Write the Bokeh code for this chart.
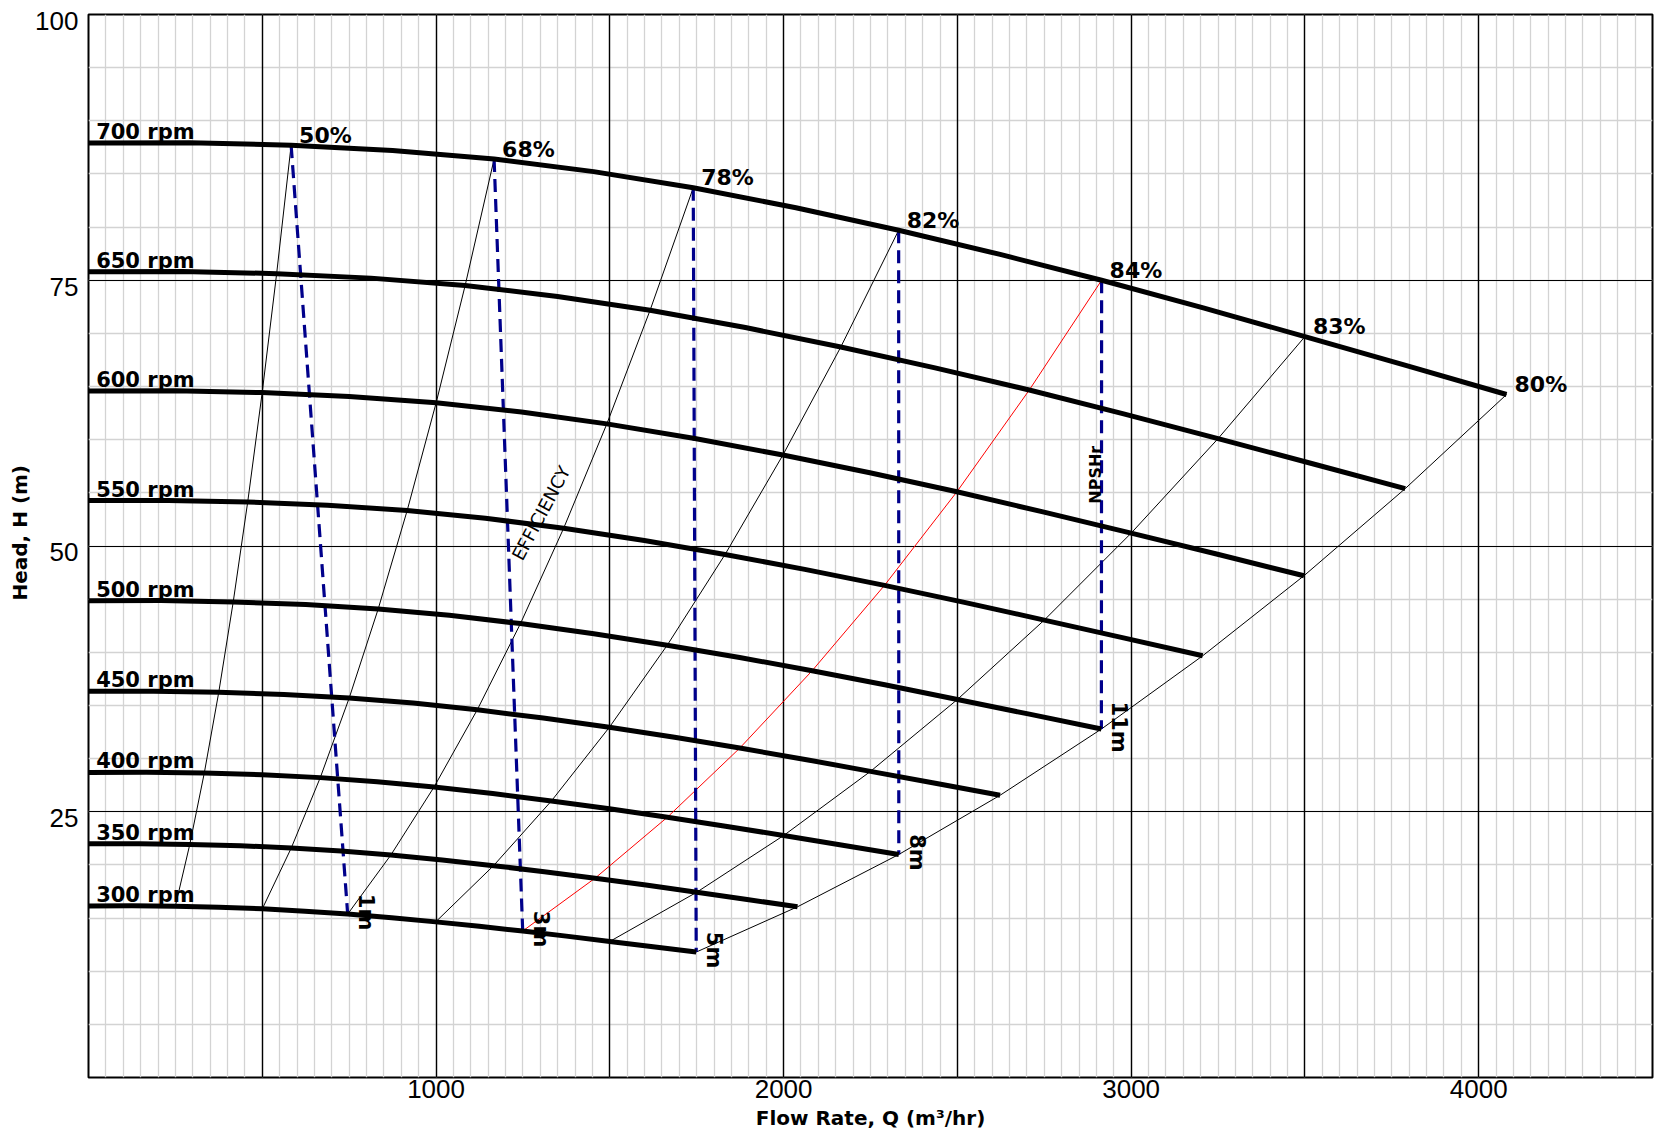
import math
from bokeh.plotting import figure
from bokeh.models import Range1d, FixedTicker, SingleIntervalTicker, Grid, Title
from bokeh.embed import file_html
from bokeh.resources import INLINE
from bokeh.core.properties import value

# ---- data ----
speeds = [300, 350, 400, 450, 500, 550, 600, 650, 700]
rpm_labels = ["300 rpm", "350 rpm", "400 rpm", "450 rpm", "500 rpm",
              "550 rpm", "600 rpm", "650 rpm", "700 rpm"]

# head-curve points at shut-off and at the marked efficiency points
q_300 = [0, 249.86, 500.14, 745.71, 999.0, 1249.29, 1500.0, 1748.57]
h_300 = [16.14, 16.11, 15.87, 15.37, 14.64, 13.78, 12.80, 11.80]
q_350 = [0, 291.5, 583.5, 870.0, 1165.5, 1457.5, 1750.0, 2040.0]
h_350 = [21.98, 21.93, 21.60, 20.93, 19.93, 18.75, 17.43, 16.06]
q_400 = [0, 333.14, 666.86, 994.29, 1332.0, 1665.71, 2000.0, 2331.43]
h_400 = [28.70, 28.64, 28.21, 27.33, 26.02, 24.49, 22.76, 20.98]
q_450 = [0, 374.79, 750.21, 1118.57, 1498.5, 1873.93, 2250.0, 2622.86]
h_450 = [36.33, 36.24, 35.71, 34.59, 32.94, 30.99, 28.80, 26.55]
q_500 = [0, 416.43, 833.57, 1242.86, 1665.0, 2082.14, 2500.0, 2914.29]
h_500 = [44.85, 44.74, 44.08, 42.70, 40.66, 38.27, 35.56, 32.78]
q_550 = [0, 458.07, 916.93, 1367.14, 1831.5, 2290.36, 2750.0, 3205.71]
h_550 = [54.27, 54.14, 53.34, 51.67, 49.20, 46.30, 43.03, 39.67]
q_600 = [0, 499.71, 1000.29, 1491.43, 1998.0, 2498.57, 3000.0, 3497.14]
h_600 = [64.58, 64.43, 63.48, 61.49, 58.56, 55.10, 51.21, 47.20]
q_650 = [0, 541.36, 1083.64, 1615.71, 2164.5, 2706.79, 3250.0, 3788.57]
h_650 = [75.79, 75.62, 74.50, 72.17, 68.72, 64.67, 60.10, 55.40]
q_700 = [0, 583.0, 1167.0, 1740.0, 2331.0, 2915.0, 3500.0, 4080.0]
h_700 = [87.90, 87.70, 86.40, 83.70, 79.70, 75.00, 69.70, 64.25]

# extra points read between the marked points (curves are smooth)
qm_300 = [124.93, 375.0, 622.93, 872.36, 1124.14, 1374.64, 1624.29]
hm_300 = [16.15, 16.02, 15.65, 15.03, 14.22, 13.30, 12.30]
qm_350 = [145.75, 437.5, 726.75, 1017.75, 1311.5, 1603.75, 1895.0]
hm_350 = [21.99, 21.80, 21.31, 20.46, 19.36, 18.10, 16.75]
qm_400 = [166.57, 500.0, 830.57, 1163.14, 1498.86, 1832.86, 2165.71]
hm_400 = [28.72, 28.48, 27.83, 26.72, 25.28, 23.64, 21.87]
qm_450 = [187.39, 562.5, 934.39, 1308.54, 1686.21, 2061.96, 2436.43]
hm_450 = [36.34, 36.04, 35.22, 33.81, 32.00, 29.92, 27.68]
qm_500 = [208.21, 625.0, 1038.21, 1453.93, 1873.57, 2291.07, 2707.14]
hm_500 = [44.87, 44.49, 43.48, 41.74, 39.51, 36.94, 34.18]
qm_550 = [229.04, 687.5, 1142.04, 1599.32, 2060.93, 2520.18, 2977.86]
hm_550 = [54.29, 53.84, 52.61, 50.51, 47.80, 44.70, 41.36]
qm_600 = [249.86, 750.0, 1245.86, 1744.71, 2248.29, 2749.29, 3248.57]
hm_600 = [64.61, 64.07, 62.61, 60.11, 56.89, 53.19, 49.22]
qm_650 = [270.68, 812.5, 1349.68, 1890.11, 2435.64, 2978.39, 3519.29]
hm_650 = [75.83, 75.20, 73.48, 70.55, 66.76, 62.43, 57.76]
qm_700 = [291.5, 875.0, 1453.5, 2035.5, 2623.0, 3207.5, 3790.0]
hm_700 = [87.94, 87.21, 85.22, 81.82, 77.43, 72.40, 66.99]

curves_q = [q_300, q_350, q_400, q_450, q_500, q_550, q_600, q_650, q_700]
curves_h = [h_300, h_350, h_400, h_450, h_500, h_550, h_600, h_650, h_700]
mids_q = [qm_300, qm_350, qm_400, qm_450, qm_500, qm_550, qm_600, qm_650, qm_700]
mids_h = [hm_300, hm_350, hm_400, hm_450, hm_500, hm_550, hm_600, hm_650, hm_700]

eff_labels = ["50%", "68%", "78%", "82%", "84%", "83%", "80%"]
eff_colors = ["black", "black", "black", "black", "red", "black", "black"]

npsh_labels = ["1m", "3m", "5m", "8m", "11m"]
npsh_q_top = [q_700[1], q_700[2], q_700[3], q_700[4], q_700[5]]
npsh_h_top = [h_700[1], h_700[2], h_700[3], h_700[4], h_700[5]]
npsh_q_bot = [q_300[3], q_300[5], q_300[7], q_400[7], q_500[7]]
npsh_h_bot = [h_300[3], h_300[5], h_300[7], h_400[7], h_500[7]]

x_ticks = [1000, 2000, 3000, 4000]
y_ticks = [25, 50, 75, 100]
y_tick_labels = ["25", "50", "75", "100"]

# ---- figure ----
p = figure(width=1660, height=1139, x_range=Range1d(0, 4500), y_range=Range1d(0, 100),
           output_backend="svg", toolbar_location=None,
           min_border_left=88, min_border_right=8, min_border_top=14, min_border_bottom=62)
p.background_fill_color = "white"
p.border_fill_color = "white"
p.outline_line_color = "black"
p.outline_line_width = 2
p.outline_line_alpha = 1.0
p.xgrid.visible = False
p.ygrid.visible = False

for dim, iv, col, w in [(0, 50, "#d3d3d3", 1.3), (1, 5, "#d3d3d3", 1.3),
                        (0, 500, "black", 1.4), (1, 25, "black", 1.2)]:
    p.add_layout(Grid(dimension=dim,
                      ticker=SingleIntervalTicker(interval=iv, num_minor_ticks=0),
                      grid_line_color=col, grid_line_width=w))

for ax in (p.xaxis, p.yaxis):
    ax.major_tick_line_color = None
    ax.minor_tick_line_color = None
    ax.major_tick_out = 0
    ax.major_tick_in = 0
    ax.axis_line_color = None
    ax.major_label_text_font = "Liberation Sans"
    ax.major_label_text_font_size = "26px"
    ax.major_label_text_color = "black"
    ax.axis_label_text_font = "DejaVu Sans"
    ax.axis_label_text_font_style = "bold"
    ax.axis_label_text_font_size = "20px"
    ax.axis_label_text_color = "black"

p.xaxis.ticker = FixedTicker(ticks=x_ticks)
p.xaxis.major_label_standoff = 2
p.xaxis.axis_label = "Flow Rate, Q (m³/hr)"
p.xaxis.axis_label_standoff = 5

# y labels sit slightly below their grid lines in the reference
y_label_pos = [t - 0.6 for t in y_ticks]
p.yaxis.ticker = FixedTicker(ticks=y_label_pos)
p.yaxis.major_label_overrides = {pos: lab for pos, lab in zip(y_label_pos, y_tick_labels)}
p.yaxis.major_label_standoff = 10

# y-axis title as a side title, a little above the frame centre
p.add_layout(Title(text="Head, H (m)", align="left", offset=477, standoff=2,
                   text_font="DejaVu Sans", text_font_style="bold",
                   text_font_size="20px", text_color="black"), "left")

# iso-efficiency lines
for j in range(len(eff_labels)):
    xs = [cq[j + 1] for cq in curves_q]
    ys = [ch[j + 1] for ch in curves_h]
    p.line(xs, ys, line_color=eff_colors[j], line_width=1, line_join="round")

# NPSHr dashed lines
p.segment(x0=npsh_q_top, y0=npsh_h_top, x1=npsh_q_bot, y1=npsh_h_bot,
          line_color="#00008B", line_width=3.2, line_dash="13 7")

# head curves (marked points interleaved with the in-between points)
for cq, ch, mq, mh in zip(curves_q, curves_h, mids_q, mids_h):
    xs, ys = [], []
    for k in range(len(cq)):
        xs.append(cq[k]); ys.append(ch[k])
        if k < len(mq):
            xs.append(mq[k]); ys.append(mh[k])
    p.line(xs, ys, line_color="black", line_width=5, line_join="round")

bold = dict(text_font=value("DejaVu Sans"), text_font_style="bold", text_color="black")

# rpm labels
p.text(x=[22] * len(speeds), y=[ch[0] for ch in curves_h], text=rpm_labels,
       text_font_size="21px", text_align="left", text_baseline="middle",
       y_offset=-11, **bold)

# efficiency labels
p.text(x=q_700[1:], y=h_700[1:], text=eff_labels, text_font_size="22px",
       text_align="left", text_baseline="middle", x_offset=8, y_offset=-10, **bold)

# NPSH labels
p.text(x=npsh_q_bot, y=npsh_h_bot, text=npsh_labels, angle=-math.pi / 2,
       text_font_size="21px", text_align="center", text_baseline="middle",
       x_offset=18, y_offset=-2, **bold)

p.text(x=[1302], y=[53.1], text=["EFFICIENCY"], angle=math.radians(62),
       text_font=value("DejaVu Sans"), text_font_size="18px", text_color="black",
       text_align="center", text_baseline="middle")
p.text(x=[2897], y=[56.7], text=["NPSHr"], angle=math.pi / 2,
       text_font=value("DejaVu Sans"), text_font_style="bold", text_font_size="16px",
       text_color="black", text_align="center", text_baseline="middle")

open("out.html", "w").write(file_html(p, INLINE))
